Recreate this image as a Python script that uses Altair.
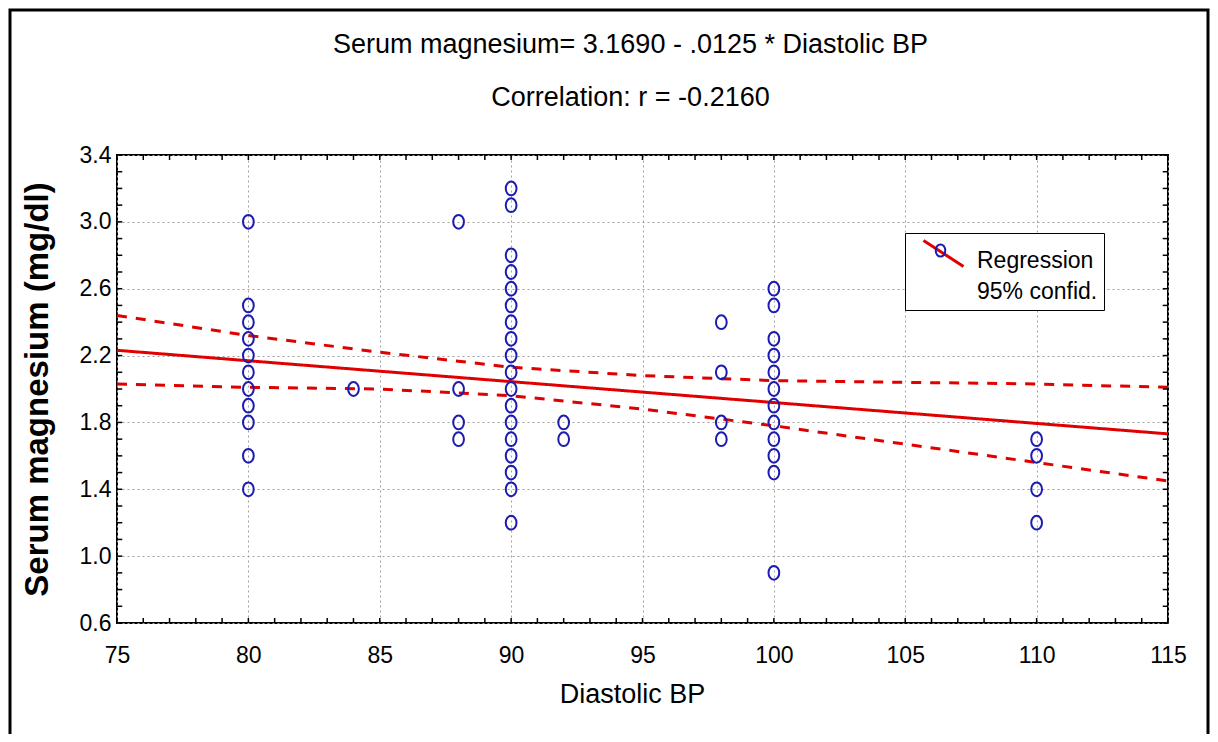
import altair as alt
import pandas as pd

# ---- data ----
bp_80 = [3.0, 2.5, 2.4, 2.3, 2.2, 2.1, 2.0, 1.9, 1.8, 1.6, 1.4]
bp_84 = [2.0]
bp_88 = [3.0, 2.0, 1.8, 1.7]
bp_90 = [3.2, 3.1, 2.8, 2.7, 2.6, 2.5, 2.4, 2.3, 2.2, 2.1, 2.0, 1.9, 1.8, 1.7, 1.6, 1.5, 1.4, 1.2]
bp_92 = [1.8, 1.7]
bp_98 = [2.4, 2.1, 1.8, 1.7]
bp_100 = [2.6, 2.5, 2.3, 2.2, 2.1, 2.0, 1.9, 1.8, 1.7, 1.6, 1.5, 0.9]
bp_110 = [1.7, 1.6, 1.4, 1.2]
groups = {80: bp_80, 84: bp_84, 88: bp_88, 90: bp_90, 92: bp_92, 98: bp_98, 100: bp_100, 110: bp_110}

fit_x = [75, 115]
fit_y = [2.2315, 1.7315]

band_x = [75, 80, 85, 90, 95, 100, 105, 110, 115]
upper_y = [2.44, 2.32, 2.22, 2.13, 2.08, 2.05, 2.04, 2.03, 2.01]
lower_y = [2.03, 2.01, 2.00, 1.96, 1.88, 1.78, 1.67, 1.56, 1.45]

x_major = [75, 80, 85, 90, 95, 100, 105, 110, 115]
y_major = [0.6, 1.0, 1.4, 1.8, 2.2, 2.6, 3.0, 3.4]
x_minor = list(range(75, 116))
y_minor = [round(0.6 + 0.1 * i, 1) for i in range(29)]

title_main = "Serum magnesium= 3.1690 - .0125 * Diastolic BP"
title_sub = "Correlation: r = -0.2160"
x_title = "Diastolic BP"
y_title = "Serum magnesium (mg/dl)"
legend_lines = ["Regression", "95% confid."]

# ---- tables ----
pts = pd.DataFrame(
    [{"bp": k, "mg": v, "leg2": "pts"} for k, vals in groups.items() for v in vals]
)
lines = pd.concat([
    pd.DataFrame({"x": fit_x, "y": fit_y, "band": "fit"}),
    pd.DataFrame({"x": band_x, "y": upper_y, "band": "upper"}),
    pd.DataFrame({"x": band_x, "y": lower_y, "band": "lower"}),
])
lines["leg"] = "Regression"

FONT = "Liberation Sans"
W, H = 1051, 468
xs = alt.Scale(domain=[75, 115], nice=False, zero=False)
ys = alt.Scale(domain=[0.6, 3.4], nice=False, zero=False)

ellipse = "M0,-1A0.78,1,0,1,1,0,1A0.78,1,0,1,1,0,-1Z"
ellipse_leg = "M0,-1.66A0.78,1,0,1,1,0,0.34A0.78,1,0,1,1,0,-1.66Z"
legX, legY = 788, 78
label_expr = "['" + legend_lines[0] + "', '" + legend_lines[1] + "']"
BLUE = "#1c1cb0"
RED = "#e00000"

x_axis = alt.Axis(values=x_major, ticks=False, domain=False, labelFontSize=23,
                  labelFont=FONT, labelColor="black", labelPadding=21, labelFlush=False,
                  titleFont=FONT, titleFontSize=27, titleFontWeight="normal",
                  titleColor="black", titlePadding=14, titleX=515, grid=True,
                  gridDash=[2, 3], gridColor="#a0a0a0", gridWidth=1)
y_axis = alt.Axis(values=y_major, ticks=False, domain=False, format=".1f",
                  labelFontSize=23, labelFont=FONT, labelColor="black", labelFlush=False,
                  labelPadding=6, titleFont=FONT, titleFontSize=33,
                  titleFontWeight="bold", titleColor="black", titlePadding=25,
                  grid=True, gridDash=[2, 3], gridColor="#a0a0a0", gridWidth=1)

line = alt.Chart(lines).mark_line(strokeWidth=3, clip=True).encode(
    x=alt.X("x:Q", scale=xs, title=x_title, axis=x_axis),
    y=alt.Y("y:Q", scale=ys, title=y_title, axis=y_axis),
    detail="band:N",
    strokeDash=alt.StrokeDash("band:N",
                              scale=alt.Scale(domain=["fit", "upper", "lower"],
                                              range=[[1, 0], [10, 9], [10, 9]]),
                              legend=None),
    color=alt.Color("leg:N", scale=alt.Scale(range=[RED]),
                    legend=alt.Legend(title=None, orient="none", legendX=legX, legendY=legY,
                                      symbolType="M-1,-1.0L1,0.3", symbolSize=1600,
                                      symbolStrokeWidth=3, symbolOffset=11,
                                      labelExpr=label_expr, labelFontSize=23,
                                      labelFont=FONT, labelColor="black", labelOffset=12,
                                      strokeColor="black", fillColor="white", padding=6)),
)

points = alt.Chart(pts).mark_point(
    filled=False, strokeWidth=2, color=BLUE, size=190, opacity=1
).encode(
    x=alt.X("bp:Q", scale=xs, title=x_title),
    y=alt.Y("mg:Q", scale=ys, title=y_title),
    shape=alt.Shape("leg2:N", scale=alt.Scale(range=[ellipse]),
                    legend=alt.Legend(title=None, orient="none", legendX=legX, legendY=legY,
                                      symbolStrokeColor=BLUE, symbolStrokeWidth=2,
                                      symbolFillColor="white", symbolSize=150,
                                      symbolOffset=18, labelExpr="[' ', ' ']", labelOpacity=0,
                                      labelFontSize=23, labelFont=FONT, labelOffset=12,
                                      padding=6, symbolType=ellipse_leg,
                                      fillColor="transparent")),
)

tick_x = pd.DataFrame({"t": x_minor})
tick_y = pd.DataFrame({"t": y_minor})
tick_b = alt.Chart(tick_x.assign(a=0.6, b=0.63)).mark_rule(color="black", strokeWidth=1.5).encode(
    x=alt.X("t:Q", scale=xs, title=x_title), y=alt.Y("a:Q", scale=ys, title=y_title), y2="b:Q")
tick_t = alt.Chart(tick_x.assign(a=3.4, b=3.37)).mark_rule(color="black", strokeWidth=1.5).encode(
    x=alt.X("t:Q", scale=xs, title=x_title), y=alt.Y("a:Q", scale=ys, title=y_title), y2="b:Q")
tick_l = alt.Chart(tick_y.assign(a=75, b=75.2)).mark_rule(color="black", strokeWidth=1.5).encode(
    y=alt.Y("t:Q", scale=ys, title=y_title), x=alt.X("a:Q", scale=xs, title=x_title), x2="b:Q")
tick_r = alt.Chart(tick_y.assign(a=115, b=114.8)).mark_rule(color="black", strokeWidth=1.5).encode(
    y=alt.Y("t:Q", scale=ys, title=y_title), x=alt.X("a:Q", scale=xs, title=x_title), x2="b:Q")

frame = alt.Chart(pd.DataFrame({"a": [0]})).mark_rect(
    fillOpacity=0, stroke="black", strokeWidth=3, clip=False
).encode(x=alt.value(-107), x2=alt.value(1091), y=alt.value(-145), y2=alt.value(640))

chart = alt.layer(
    line, points, tick_b, tick_t, tick_l, tick_r, frame
).resolve_scale(shape="independent", color="independent").properties(
    width=W, height=H,
    autosize=alt.AutoSizeParams(type="none"),
    padding={"left": 109, "top": 147, "right": 42, "bottom": 111},
    background="white",
    title=alt.TitleParams(text=title_main, subtitle=title_sub, anchor="middle",
                          font=FONT, fontSize=27, fontWeight="normal", color="black",
                          subtitleFont=FONT, subtitleFontSize=27, subtitleColor="black",
                          subtitlePadding=26, offset=-103, dx=-12),
).configure(style={"guide-label": {"lineHeight": 31}}).configure_view(
    stroke="black", strokeWidth=2
)

chart.save("out.html", embed_options={"renderer": "svg", "actions": False})
